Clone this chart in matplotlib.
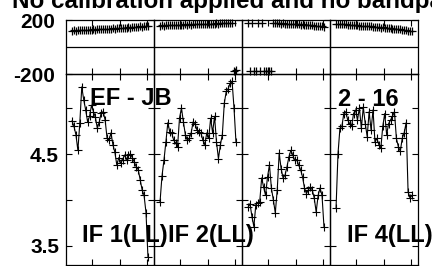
import numpy as np
import matplotlib
matplotlib.use('Agg')
import matplotlib.pyplot as plt

plt.rcParams['font.family'] = ['Liberation Sans', 'DejaVu Sans']

title = 'No calibration applied and no bandpass'
baseline_label = 'EF - JB'
time_label = '2 - 16'
if_labels = ['IF 1(LL)', 'IF 2(LL)', '', 'IF 4(LL)']

channels = np.arange(1, 41)

phase_if1 = [122, 125, 121, 124, 127, 123, 126, 128, 125, 129, 127, 130, 128, 131, 133, 130,
             134, 132, 135, 137, 134, 138, 136, 140, 138, 141, 143, 140, 144, 146, 143, 147,
             149, 146, 150, 152, 149, 153, 156, 158]
phase_if2 = [158, 161, 159, 162, 160, 163, 161, 164, 162, 165, 163, 166, 164, 167, 165, 168,
             166, 169, 167, 170, 168, 171, 169, 172, 170, 173, 171, 174, 172, 175, 174, 176,
             175, 177, 178, 176, 179, 181, -178, -170]
phase_if3 = [176, -178, 177, -177, -179, 178, -176, 179, -178, -177, -179, -176, -178,
             178, 176, 177, 175, 174, 176, 173, 172, 174, 171, 170, 172, 169, 168, 166, 167,
             165, 164, 162, 163, 160, 158, 159, 156, 155, 153, 151]
phase_if4 = [172, 170, 171, 168, 167, 169, 165, 164, 166, 162, 161, 163, 159, 158, 156, 157,
             154, 152, 153, 150, 148, 149, 146, 144, 145, 142, 140, 138, 139, 136, 134, 132,
             133, 130, 128, 125, 126, 122, 119, 115]

amp_if1 = [4.86, 4.80, 4.71, 4.54, 4.84, 5.23, 5.09, 4.98, 4.85, 4.91, 5.03, 4.96, 4.90, 4.78,
           4.85, 4.95, 4.96, 4.87, 4.67, 4.65, 4.73, 4.60, 4.52, 4.38, 4.46, 4.40, 4.44, 4.49,
           4.44, 4.49, 4.50, 4.46, 4.41, 4.36, 4.33, 4.22, 4.11, 4.05, 3.86, 3.38]
amp_if2 = [3.98, 4.26, 4.43, 4.63, 4.84, 4.74, 4.73, 4.65, 4.62, 4.58, 4.89, 5.00, 4.85, 4.71,
           4.65, 4.67, 4.73, 4.85, 4.83, 4.76, 4.74, 4.73, 4.65, 4.60, 4.73, 4.67, 4.89, 4.73,
           4.91, 4.63, 4.45, 4.60, 4.71, 5.05, 5.18, 5.21, 5.27, 5.29, 5.00, 4.63]
amp_if3 = [3.92, 3.96, 3.82, 3.71, 3.95, 3.97, 3.98, 4.24, 4.14, 4.05, 4.25, 4.38, 4.13, 4.00,
           3.86, 4.11, 4.51, 4.34, 4.24, 4.27, 4.36, 4.47, 4.54, 4.49, 4.43, 4.44, 4.38, 4.33,
           4.25, 4.13, 4.07, 4.11, 4.14, 4.11, 4.02, 3.87, 4.05, 4.13, 4.05, 3.71]
amp_if4 = [3.91, 4.50, 4.78, 4.80, 4.94, 4.96, 4.87, 4.83, 4.80, 4.94, 4.98, 4.87, 5.00, 4.78,
           5.01, 4.83, 4.69, 4.96, 4.76, 4.98, 4.63, 4.67, 4.60, 4.56, 4.80, 4.94, 4.71, 4.83,
           4.87, 4.91, 4.96, 4.67, 4.58, 4.53, 4.67, 4.73, 4.84, 4.09, 4.02, 4.05]

phases = [phase_if1, phase_if2, phase_if3, phase_if4]
amps = [amp_if1, amp_if2, amp_if3, amp_if4]

W, H = 432, 266
fig = plt.figure(figsize=(W / 100, H / 100), dpi=100)
fig.patch.set_facecolor('white')

left, pw = 66, 88
top, mid, bottom = 20, 74, 265


def box(x0, y0, x1, y1):
    return [x0 / W, 1 - y1 / H, (x1 - x0) / W, (y1 - y0) / H]


for i in range(4):
    x0 = left + i * pw
    axp = fig.add_axes(box(x0, top, x0 + pw, mid))
    axa = fig.add_axes(box(x0, mid, x0 + pw, bottom))
    for ax in (axp, axa):
        ax.set_facecolor('none')
        ax.set_xlim(-2.1, 43.1)
        ax.set_xticks([11.5, 25.5, 39.5])
        ax.set_xticklabels([])
        ax.tick_params(direction='in', length=4, width=0.8, top=True, right=True,
                       labelsize=15, pad=8)
        for s in ax.spines.values():
            s.set_linewidth(0.9)

    # phase: markers only, amplitude: markers joined by lines
    axp.plot(channels, phases[i], ls='none', color='black', marker='+', ms=6, mew=0.9,
             clip_on=False)
    axa.plot(channels, amps[i], color='black', lw=0.8, marker='+', ms=6, mew=0.8,
             clip_on=False)

    axp.set_ylim(-200, 200)
    axp.axhline(0, color='black', lw=0.9)
    axp.set_yticks([-200, 200])
    axa.set_ylim(3.293, 5.37)
    axa.set_yticks([3.5, 4.0, 4.5, 5.0])
    if i == 0:
        axp.set_yticklabels(['-200', '200'], fontweight='bold')
        axa.set_yticklabels(['3.5', '', '4.5', ''], fontweight='bold')
        axa.tick_params(axis='y', pad=5)
        axa.text(0.27, 0.874, baseline_label, transform=axa.transAxes, fontsize=17,
                 fontweight='bold', va='center', ha='left', zorder=5)
    else:
        axp.set_yticklabels([])
        axa.set_yticklabels([])
    if i == 3:
        axa.text(0.09, 0.864, time_label, transform=axa.transAxes, fontsize=17,
                 fontweight='bold', va='center', ha='left', zorder=5)
    fx = [0.18, 0.16, 0.18, 0.19][i]
    axa.text(fx, 0.152, if_labels[i], transform=axa.transAxes, fontsize=17,
             fontweight='bold', va='center', ha='left', zorder=5)

fig.text(12 / W, 1 - 8.3 / H, title, fontsize=17.4, fontweight='bold',
         ha='left', va='baseline')

fig.savefig('out.png', dpi=100)
